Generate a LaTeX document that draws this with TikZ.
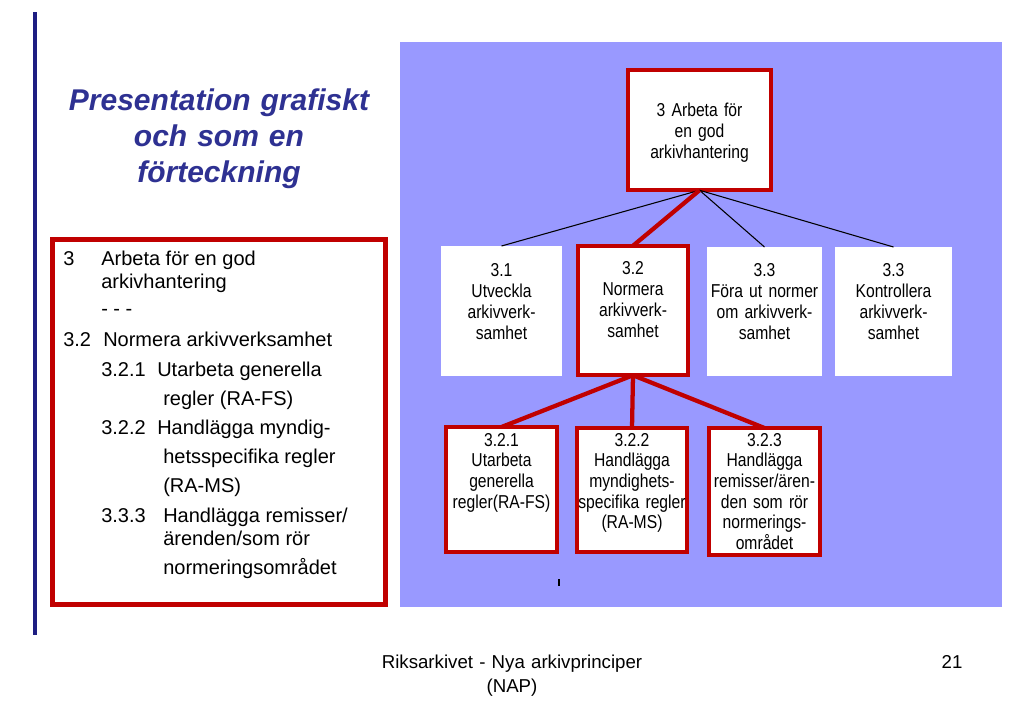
\documentclass[tikz,border=0pt]{standalone}
\usepackage{fontspec}
\setmainfont{Liberation Sans}
\newfontfamily\narrowfont[FakeStretch=0.84]{Liberation Sans}
\definecolor{redc}{RGB}{192,0,0}
\definecolor{panelc}{RGB}{153,153,255}
\definecolor{titlec}{RGB}{46,49,146}
\definecolor{navyc}{RGB}{30,30,130}
\begin{document}
\begin{tikzpicture}[x=0.75pt,y=-0.75pt,
  wh/.style 2 args={minimum width=#1*0.75pt, minimum height=#2*0.75pt},
  redbox/.style={draw=redc, line width=2.8pt, fill=white, inner sep=0pt, outer sep=0pt},
  redboxb/.style={draw=redc, line width=3pt, fill=white, inner sep=0pt, outer sep=0pt},
  plainbox/.style={draw=none, fill=white, inner sep=0pt, outer sep=0pt},
  boxtext/.style={font=\narrowfont\fontsize{14}{15.9}\selectfont, text width=120pt, align=center, inner sep=0pt, anchor=base},
  boxtextb/.style={font=\narrowfont\fontsize{14}{15.5}\selectfont, text width=120pt, align=center, inner sep=0pt, anchor=base},
  listtext/.style={font=\fontsize{15}{18}\selectfont, inner sep=0pt, anchor=base west},
  thinline/.style={draw=black, line width=0.8pt},
  redline/.style={draw=redc, line width=3.2pt},
]
\useasboundingbox (0,0) rectangle (1023,708);
\fill[white] (0,0) rectangle (1023,708);
\draw[navyc, line width=2.4pt] (35,12) -- (35,635);

% title
\node[font=\bfseries\itshape\fontsize{22.5}{27}\selectfont, text=titlec, text width=300pt, align=center, inner sep=0pt, anchor=base] (title) at (219,110) {Presentation grafiskt\\och som en\\förteckning};

% blue panel
\fill[panelc] (400,42) rectangle (1002,607);

% boxes
\node[redbox, wh={143.5}{120.5}] (top) at (699.5,130) {};
\node[plainbox, wh={121}{130}] (n31) at (501.5,311) {};
\node[redbox, wh={110.5}{129.5}] (n32) at (633,310.5) {};
\node[plainbox, wh={115}{129}] (n33) at (764.5,311.5) {};
\node[plainbox, wh={117}{129}] (n34) at (893.5,311.5) {};
\node[redboxb, wh={111}{125}] (n321) at (501.5,489.5) {};
\node[redboxb, wh={110}{124}] (n322) at (632,490) {};
\node[redboxb, wh={111}{127}] (n323) at (764.5,491.5) {};

% connectors
\draw[thinline] (top.south) -- (n31.north);
\draw[thinline] (top.south) -- (n33.north);
\draw[thinline] (top.south) -- (n34.north);
\draw[redline] (top.south) -- (n32.north);
\draw[redline] (n32.south) -- (n321.north);
\draw[redline] (n32.south) -- (n322.north);
\draw[redline] (n32.south) -- (n323.north);

% box texts
\node[boxtext] (ttop) at (699.5,116) {3 Arbeta för\\en god\\arkivhantering};
\node[boxtext] (t31) at (501.5,276) {3.1\\Utveckla\\arkivverk-\\samhet};
\node[boxtext] (t32) at (633,274) {3.2\\Normera\\arkivverk-\\samhet};
\node[boxtext] (t33) at (764.5,276) {3.3\\Föra ut normer\\om arkivverk-\\samhet};
\node[boxtext] (t34) at (893.5,276) {3.3\\Kontrollera\\arkivverk-\\samhet};
\node[boxtextb] (t321) at (501.5,446) {3.2.1\\Utarbeta\\generella\\regler(RA-FS)};
\node[boxtextb] (t322) at (632,446) {3.2.2\\Handlägga\\myndighets-\\specifika regler\\(RA-MS)};
\node[boxtextb] (t323) at (764.5,446) {3.2.3\\Handlägga\\remisser/ären-\\den som rör\\normerings-\\området};

% small tick
\draw[black, line width=0.9pt] (559,579) -- (559,586);

% list box
\node[draw=redc, line width=3.75pt, fill=white, inner sep=0pt, outer sep=0pt, wh={333}{365}] (listbox) at (219,422) {};
\node[listtext] (l1a) at (63,265) {3};
\node[listtext] (l1b) at (101,265) {Arbeta för en god};
\node[listtext] (l2) at (101,288) {arkivhantering};
\node[listtext] (l3) at (101,315) {- - -};
\node[listtext] (l4a) at (63,346) {3.2};
\node[listtext] (l4b) at (103,346) {Normera arkivverksamhet};
\node[listtext] (l5a) at (101,376) {3.2.1};
\node[listtext] (l5b) at (157,376) {Utarbeta generella};
\node[listtext] (l6) at (163,405) {regler (RA-FS)};
\node[listtext] (l7a) at (101,434) {3.2.2};
\node[listtext] (l7b) at (157,434) {Handlägga myndig-};
\node[listtext] (l8) at (163,463) {hetsspecifika regler};
\node[listtext] (l9) at (163,492) {(RA-MS)};
\node[listtext] (l10a) at (101,522) {3.3.3};
\node[listtext] (l10b) at (163,522) {Handlägga remisser/};
\node[listtext] (l11) at (163,545) {ärenden/som rör};
\node[listtext] (l12) at (163,574) {normeringsområdet};

% footer
\node[font=\fontsize{14}{18}\selectfont, text width=300pt, align=center, inner sep=0pt, anchor=base] (footer) at (512,668) {Riksarkivet - Nya arkivprinciper\\(NAP)};
\node[font=\fontsize{14}{18}\selectfont, inner sep=0pt, anchor=base] (pageno) at (952,668) {21};
\end{tikzpicture}
\end{document}
